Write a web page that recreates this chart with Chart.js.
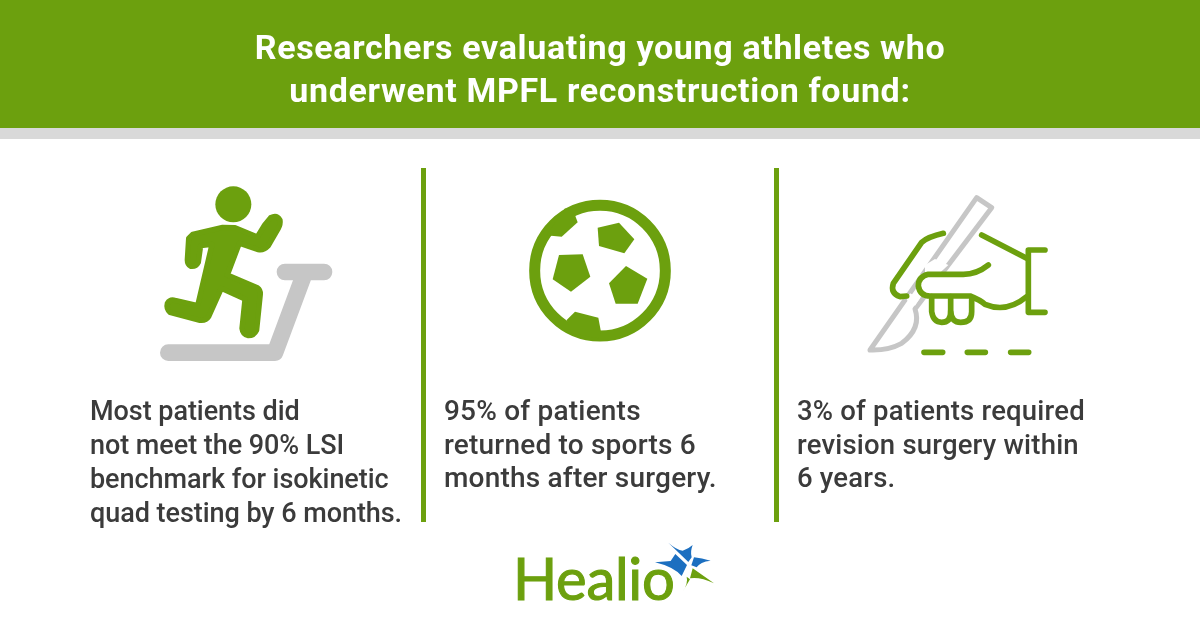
<!DOCTYPE html>
<html><head><meta charset="utf-8">
<script src="https://cdn.jsdelivr.net/npm/chart.js@4/dist/chart.umd.min.js"></script>
<style>
html,body{margin:0;padding:0;background:#fff;width:1200px;height:630px;overflow:hidden}
#c{position:absolute;left:0;top:0}
.t{position:absolute;font-family:Roboto,sans-serif;white-space:pre}
#title{left:0;width:1200px;top:26px;text-align:center;color:#fff;font-weight:700;font-size:34px;line-height:43px;letter-spacing:.65px}
.col{top:394px;color:#3b3b3b;font-weight:500;line-height:34px}
#c0{font-size:27px;letter-spacing:-.05px}
#c1{font-size:28px;letter-spacing:.2px;line-height:33.5px}
#c2{font-size:27.5px;letter-spacing:.2px;line-height:33.5px}
#logo{left:513px;top:541px;color:#6ca00e;font-family:Lato,sans-serif;font-size:58px;line-height:74px;font-weight:400;letter-spacing:-.3px;-webkit-text-stroke:1.1px #6ca00e}
</style></head><body>
<canvas id="c" width="1200" height="630"></canvas>
<div class="t" id="title"></div>
<div class="t col" id="c0" style="left:90px"></div>
<div class="t col" id="c1" style="left:444px"></div>
<div class="t col" id="c2" style="left:797px"></div>
<div class="t" id="logo">Healio</div>
<script>
const titleLines = ["Researchers evaluating young athletes who","underwent MPFL reconstruction found:"];
const categories = ["Quad testing benchmark (LSI)","Returned to sports","Revision surgery"];
const statValues = [90,95,3];
const columnText = [
 ["Most patients did","not meet the 90% LSI","benchmark for isokinetic","quad testing by 6 months."],
 ["95% of patients","returned to sports 6","months after surgery."],
 ["3% of patients required","revision surgery within","6 years."]
];
const GREEN="#6ca00e", GRAY="#c6c6c6", BLUE="#1c6fc0";
document.getElementById('title').textContent=titleLines.join("\n");
columnText.forEach((l,i)=>document.getElementById('c'+i).textContent=l.join("\n"));

function icon(ctx,ox,oy,fn){ctx.save();ctx.translate(ox,oy);ctx.scale(1/3,1/3);ctx.lineCap='round';ctx.lineJoin='round';fn(ctx);ctx.restore();}
function st(ctx,d,color,w){ctx.strokeStyle=color;ctx.lineWidth=w;ctx.stroke(new Path2D(d));}
function fl(ctx,d,color){ctx.fillStyle=color;ctx.fill(new Path2D(d));}

const artwork={id:'artwork',
 beforeDraw(chart){const c=chart.ctx;c.save();c.fillStyle='#fff';c.fillRect(0,0,1200,630);c.fillStyle=GREEN;c.fillRect(0,0,1200,128);c.fillStyle='#d9d9d9';c.fillRect(0,128,1200,11);c.restore();},
 afterDraw(chart){const c=chart.ctx;
  // runner
  icon(c,150,175,x=>{
   st(x,"M55 533H375L465 291M405 291H522",GRAY,50);
   x.fillStyle=GREEN;x.beginPath();x.arc(250,88,54,0,7);x.fill();
   const body="M112 255L116 190L128 178L218 157L255 158L322 186L344 150L362 128Q380 118 390 135Q392 148 385 160L355 212Q340 228 325 224L268 205L232 300L322 338Q332 345 331 358L320 465Q312 482 295 482Q278 478 276 460L285 372L214 340L176 425Q168 438 150 436L60 412Q48 400 52 385Q60 372 75 376L143 392L186 208L152 212L145 262Q138 276 122 274Q112 268 112 255Z";
   fl(x,body,GREEN);st(x,body,GREEN,16);
  });
  // ball
  icon(c,515,185,x=>{
   x.strokeStyle=GREEN;x.lineWidth=33;x.beginPath();x.arc(255,257,196,0,7);x.stroke();
   fl(x,"M248 128L312 113L358 163L328 205L252 183Z",GREEN);
   fl(x,"M132 210L203 208L226 275L168 320L113 283Z",GREEN);
   fl(x,"M333 243L397 281L368 356L302 356L282 295Z",GREEN);
   fl(x,"M95 150L108 152L140 155L188 112L178 85L150 70Z",GREEN);
   fl(x,"M155 405L180 380L250 398L258 440L250 460L170 445Z",GREEN);
  });
  // hand
  icon(c,860,185,x=>{
   st(x,"M350 38L395 68L165 372Q185 430 125 475Q85 497 30 495Z",GRAY,15);
   fl(x,"M175 268H330L400 240L500 240V335L400 390L335 420H215V335L175 330Z","#fff");
   fl(x,"M195 240L225 222L265 240L235 268H195ZM150 325L180 340L165 362L140 345Z","#fff");
   const g=17;
   st(x,"M250 145Q205 155 185 172L100 295Q90 325 120 335L140 333",GREEN,g);
   st(x,"M365 150L500 220",GREEN,g);
   st(x,"M555 195H505V382H555",GREEN,g);
   st(x,"M385 240Q350 268 310 268H205Q175 275 175 303Q180 333 210 333H330Q360 345 375 358Q440 385 500 335",GREEN,g);
   st(x,"M215 335V380Q220 412 245 412Q272 412 272 380V335",GREEN,g);
   st(x,"M272 380Q275 412 302 412Q335 412 335 380V345",GREEN,g);
   st(x,"M192 502H248M322 502H376M452 502H506",GREEN,17);
  });
  // logo star
  icon(c,500,530,x=>{
   fl(x,"M505 38Q530 60 548 62Q565 57 578 45Q570 65 575 82L565 96Z",BLUE);
   fl(x,"M582 82Q605 85 632 92Q600 95 590 112L574 106Z",BLUE);
   fl(x,"M465 97L512 93L526 72L561 105L545 138Q520 110 465 97Z",BLUE);
   fl(x,"M578 115L642 160Q600 140 570 145Z",GREEN);
   fl(x,"M548 185Q565 160 560 140L570 148Z",GREEN);
  });
 }};

new Chart(document.getElementById('c'),{
 type:'bar',
 data:{labels:categories,datasets:[{data:statValues,backgroundColor:'rgba(0,0,0,0)',borderWidth:0}]},
 options:{responsive:false,animation:false,devicePixelRatio:1,
  layout:{padding:{left:70,right:71,top:168,bottom:108}},
  plugins:{legend:{display:false},tooltip:{enabled:false},title:{display:false}},
  scales:{
   x:{offset:true,border:{display:false},ticks:{display:false},
      grid:{offset:true,drawTicks:false,lineWidth:5,color:ctx=>(ctx.index===1||ctx.index===2)?GREEN:'rgba(0,0,0,0)'}},
   y:{display:false,min:0,max:100}
  }},
 plugins:[artwork]
});
</script></body></html>
